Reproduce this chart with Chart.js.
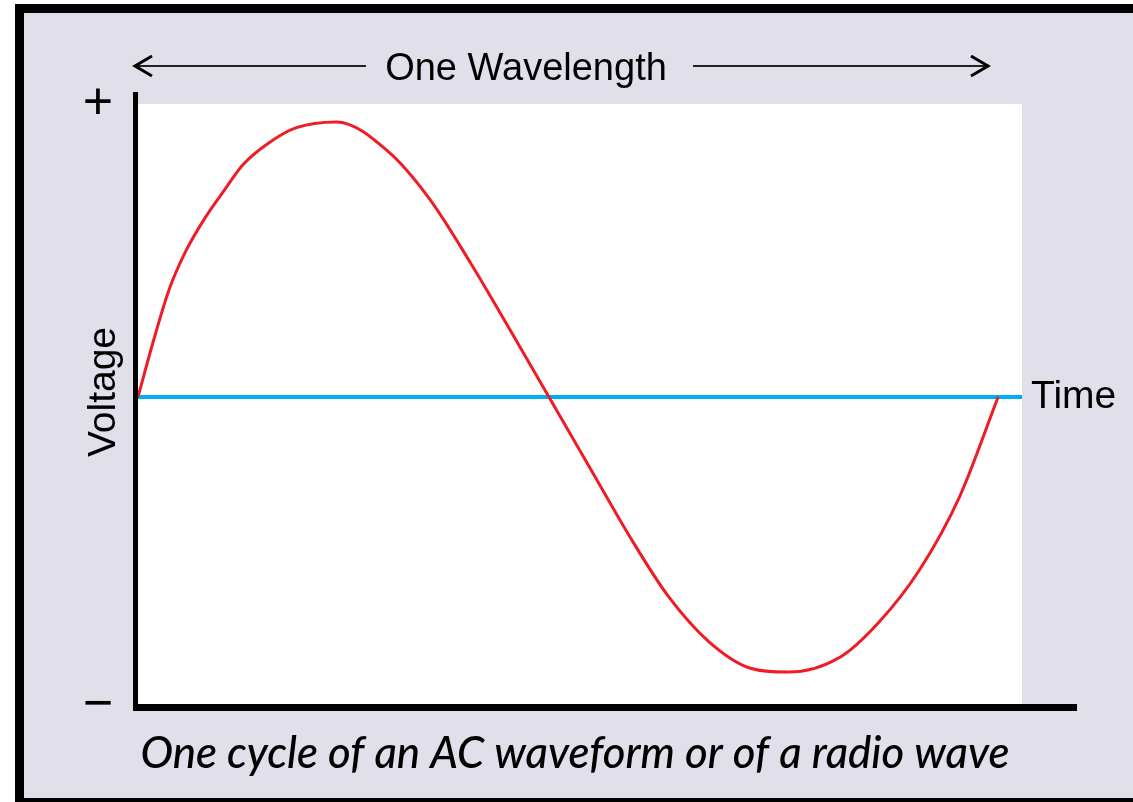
<!DOCTYPE html>
<html>
<head>
<meta charset="utf-8">
<script src="https://cdn.jsdelivr.net/npm/chart.js@4.4.1/dist/chart.umd.min.js"></script>
<style>
  html, body { margin: 0; padding: 0; background: #ffffff; overflow: hidden; }
  body { width: 1133px; height: 802px; position: relative; }
  #frame {
    position: absolute; left: 15px; top: 4px; width: 1200px; height: 803px;
    box-sizing: border-box; border: 9px solid #000; background: #e0dfea;
  }
  #wave { position: absolute; left: 0; top: 0; }
</style>
</head>
<body>
<div id="frame"></div>
<canvas id="wave" width="1133" height="802"></canvas>
<script>
// one wavelength, time in degrees of the cycle
const timeDeg = [0, 6, 13, 20, 28, 36, 44, 55, 66, 83,
  105, 122, 139, 156, 172, 189, 206, 222, 239, 256,
  272, 294, 310, 327, 344, 360];
const voltage = [0, 0.19, 0.39, 0.53, 0.65, 0.75, 0.845, 0.925, 0.978, 1.0,
  0.89, 0.72, 0.49, 0.24, 0, -0.255, -0.51, -0.725, -0.89, -0.985,
  -1.0, -0.945, -0.82, -0.63, -0.36, 0];

// time axis (the blue zero line runs along it)
const timeAxis = [0, 370];
const zeroLine = [0, 0];

const titleText = "One Wavelength";
const yLabel = "Voltage";
const xLabel = "Time";
const plusLabel = "+";
const minusLabel = "\u2212";
const caption = "One cycle of an AC waveform or of a radio wave";

// =================== DESENHO EXTRA ===================
const decor = {
  id: "decor",
  beforeDraw(chart) {
    const ctx = chart.ctx;
    const a = chart.chartArea;
    ctx.save();
    // white plot area
    ctx.fillStyle = "#ffffff";
    ctx.fillRect(a.left, a.top, a.right - a.left, a.bottom - a.top);
    ctx.restore();
  },
  afterDraw(chart) {
    const ctx = chart.ctx;
    const a = chart.chartArea;
    ctx.save();
    ctx.fillStyle = "#000";
    // axes
    ctx.fillRect(a.left - 5, a.top - 12, 5, a.bottom - a.top + 19);
    ctx.fillRect(a.left - 5, a.bottom, a.right - a.left + 60, 7);

    // + and -
    ctx.font = "52px 'Liberation Sans', Arial, sans-serif";
    ctx.textAlign = "center";
    ctx.textBaseline = "middle";
    ctx.fillText(plusLabel, 98, a.top + 1);
    ctx.fillText(minusLabel, 98, a.bottom + 2);

    // title with arrows
    ctx.font = "38px 'Liberation Sans', Arial, sans-serif";
    ctx.textBaseline = "alphabetic";
    ctx.fillText(titleText, 526, 80);
    ctx.strokeStyle = "#222";
    ctx.lineWidth = 2;
    ctx.beginPath();
    ctx.moveTo(134, 66); ctx.lineTo(366, 66);
    ctx.moveTo(693, 66); ctx.lineTo(989, 66);
    ctx.stroke();
    ctx.lineWidth = 3;
    ctx.strokeStyle = "#000";
    ctx.beginPath();
    ctx.moveTo(152, 56); ctx.lineTo(135, 66); ctx.lineTo(152, 76);
    ctx.moveTo(971, 56); ctx.lineTo(988, 66); ctx.lineTo(971, 76);
    ctx.stroke();

    // Time
    ctx.font = "39px 'Liberation Sans', Arial, sans-serif";
    ctx.textAlign = "left";
    ctx.fillText(xLabel, 1031, 408);

    // Voltage (rotated)
    ctx.save();
    ctx.translate(115, 392);
    ctx.rotate(-Math.PI / 2);
    ctx.textAlign = "center";
    ctx.fillText(yLabel, 0, 0);
    ctx.restore();

    // caption, fitted to width
    let size = 42;
    ctx.font = "italic 500 " + size + "px Lato, 'Open Sans', sans-serif";
    const w = ctx.measureText(caption).width;
    size = size * 870 / w;
    ctx.font = "italic 500 " + size.toFixed(1) + "px Lato, 'Open Sans', sans-serif";
    ctx.textAlign = "center";
    ctx.fillText(caption, 575, 768);
    ctx.restore();
  }
};

new Chart(document.getElementById("wave"), {
  type: "line",
  data: {
    datasets: [
      {
        label: "Voltage",
        data: timeDeg.map((t, i) => ({ x: t, y: voltage[i] })),
        borderColor: "#ee1d25",
        borderWidth: 3,
        pointRadius: 0,
        cubicInterpolationMode: "monotone",
        fill: false,
        order: 0
      },
      {
        label: "Time",
        data: timeAxis.map((t, i) => ({ x: t, y: zeroLine[i] })),
        borderColor: "#00aeef",
        borderWidth: 4,
        pointRadius: 0,
        fill: false,
        order: 1
      }
    ]
  },
  options: {
    responsive: false,
    animation: false,
    layout: { padding: { left: 138, top: 104, right: 111, bottom: 98 } },
    plugins: { legend: { display: false }, tooltip: { enabled: false } },
    scales: {
      x: { type: "linear", display: false, min: 0, max: 370 },
      y: { display: false, min: -1.116, max: 1.065 }
    }
  },
  plugins: [decor]
});
</script>
</body>
</html>
